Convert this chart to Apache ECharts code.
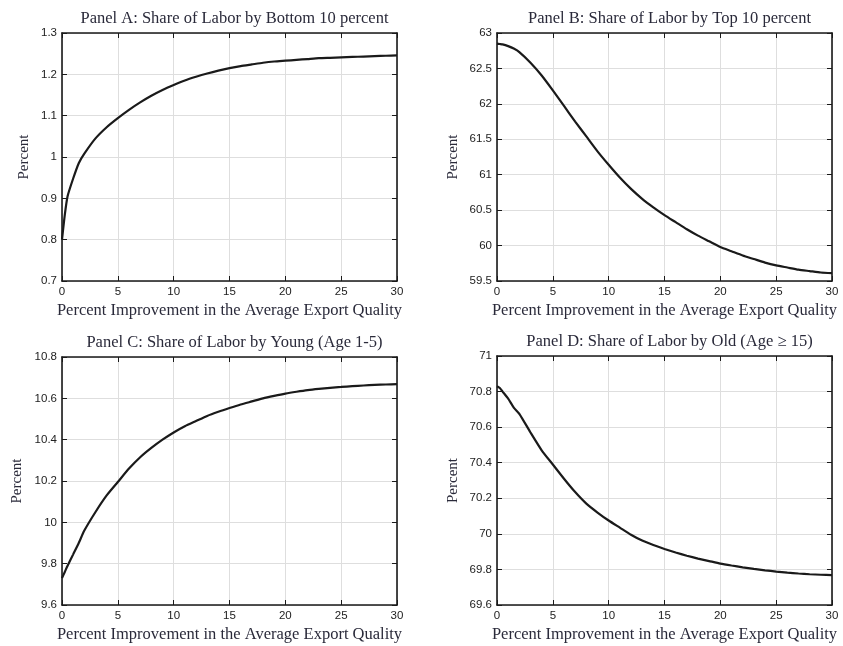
<!DOCTYPE html>
<html>
<head>
<meta charset="utf-8">
<script src="https://cdn.jsdelivr.net/npm/echarts@6/dist/echarts.min.js"></script>
<style>html,body{margin:0;padding:0;background:#fff}#c{width:843px;height:646px}</style>
</head>
<body>
<div id="c"></div>
<script>
// Shared x grid: percent improvement in average export quality
const xs = [0, 0.25, 0.5, 1, 1.5, 2, 3, 4, 5, 6, 7, 8, 9, 10, 11, 12, 13, 14, 15, 16, 17, 18, 19, 20, 21, 22, 23, 24, 25, 26, 27, 28, 29, 30];

// Panel A: share of labor by bottom 10 percent
const bottom10 = [0.80, 0.86, 0.905, 0.948, 0.985, 1.008, 1.045, 1.072, 1.094, 1.114, 1.132, 1.148, 1.162, 1.174, 1.185, 1.194, 1.202, 1.209, 1.215, 1.220, 1.224, 1.228, 1.231, 1.233, 1.235, 1.237, 1.239, 1.240, 1.241, 1.242, 1.243, 1.244, 1.245, 1.246];
// Panel B: share of labor by top 10 percent
const top10 = [62.85, 62.845, 62.84, 62.815, 62.78, 62.73, 62.58, 62.40, 62.19, 61.97, 61.75, 61.54, 61.33, 61.14, 60.96, 60.80, 60.66, 60.54, 60.43, 60.33, 60.23, 60.14, 60.06, 59.98, 59.92, 59.86, 59.81, 59.76, 59.72, 59.69, 59.66, 59.64, 59.62, 59.61];
// Panel C: share of labor by young (age 1-5)
const young = [9.73, 9.76, 9.79, 9.845, 9.90, 9.96, 10.05, 10.13, 10.195, 10.26, 10.315, 10.36, 10.40, 10.435, 10.465, 10.49, 10.515, 10.535, 10.553, 10.57, 10.585, 10.60, 10.612, 10.623, 10.632, 10.64, 10.646, 10.651, 10.655, 10.659, 10.662, 10.665, 10.667, 10.669];
// Panel D: share of labor by old (age >= 15)
const old = [70.83, 70.82, 70.80, 70.76, 70.71, 70.675, 70.57, 70.47, 70.39, 70.31, 70.235, 70.17, 70.12, 70.075, 70.035, 69.995, 69.962, 69.937, 69.915, 69.895, 69.877, 69.861, 69.847, 69.833, 69.822, 69.812, 69.803, 69.795, 69.788, 69.782, 69.777, 69.773, 69.77, 69.768];

const titles = [
  'Panel A: Share of Labor by Bottom 10 percent',
  'Panel B: Share of Labor by Top 10 percent',
  'Panel C: Share of Labor by Young (Age 1-5)',
  'Panel D: Share of Labor by Old (Age \u2265 15)'
];
const xName = 'Percent Improvement in the Average Export Quality';
const yName = 'Percent';
const yRanges = [[0.7, 1.3, 0.1], [59.5, 63, 0.5], [9.6, 10.8, 0.2], [69.6, 71, 0.2]];
const seriesData = [bottom10, top10, young, old];

const grids = [
  {left: 62, top: 33, width: 335, height: 248},
  {left: 497, top: 33, width: 335, height: 248},
  {left: 62, top: 357, width: 335, height: 248},
  {left: 497, top: 356, width: 335, height: 249}
];
const yNameGaps = [30, 36, 37, 36];

const serif = 'Liberation Serif';
const sans = 'Liberation Sans';
const lineCol = '#1a1a1a';

const option = {
  animation: false,
  backgroundColor: '#fff',
  title: [], grid: [], xAxis: [], yAxis: [], series: []
};

grids.forEach((g, i) => {
  option.grid.push(Object.assign({show: false}, g));
  option.title.push({
    text: titles[i], left: g.left + g.width / 2, top: g.top - 28, textAlign: 'center',
    textStyle: {fontFamily: serif, fontSize: 16.5, fontWeight: 'normal', color: '#2a2a3a'}
  });
  const tick = {show: true, inside: true, length: 5, lineStyle: {color: lineCol, width: 1}};
  const axLine = {show: true, onZero: false, lineStyle: {color: lineCol, width: 1.6}};
  const [ymin, ymax, yint] = yRanges[i];
  option.xAxis.push({
    type: 'value', gridIndex: i, min: 0, max: 30, interval: 5, position: 'bottom',
    axisLine: axLine, axisTick: tick,
    splitLine: {show: true, lineStyle: {color: '#dedede', width: 1}},
    axisLabel: {fontFamily: sans, fontSize: 11.5, color: '#222', margin: 5},
    name: xName, nameLocation: 'middle', nameGap: 21,
    nameTextStyle: {fontFamily: serif, fontSize: 16.5, color: '#2a2a3a'}
  });
  option.xAxis.push({
    type: 'value', gridIndex: i, min: 0, max: 30, interval: 5, position: 'top',
    axisLine: axLine, axisTick: tick, splitLine: {show: false}, axisLabel: {show: false}
  });
  option.yAxis.push({
    type: 'value', gridIndex: i, min: ymin, max: ymax, interval: yint, position: 'left',
    axisLine: axLine, axisTick: tick,
    splitLine: {show: true, lineStyle: {color: '#dedede', width: 1}},
    axisLabel: {fontFamily: sans, fontSize: 11.5, color: '#222', margin: 5,
      formatter: v => String(parseFloat(v.toFixed(4)))},
    name: yName, nameLocation: 'middle', nameGap: yNameGaps[i],
    nameTextStyle: {fontFamily: serif, fontSize: 15, color: '#2a2a3a'}
  });
  option.yAxis.push({
    type: 'value', gridIndex: i, min: ymin, max: ymax, interval: yint, position: 'right',
    axisLine: axLine, axisTick: tick, splitLine: {show: false}, axisLabel: {show: false}
  });
  option.series.push({
    type: 'line', xAxisIndex: i * 2, yAxisIndex: i * 2,
    data: xs.map((x, k) => [x, seriesData[i][k]]),
    showSymbol: false, smooth: 0.2,
    lineStyle: {color: lineCol, width: 2.2}, z: 3
  });
});

const chart = echarts.init(document.getElementById('c'), null, {renderer: 'canvas'});
chart.setOption(option);
</script>
</body>
</html>
